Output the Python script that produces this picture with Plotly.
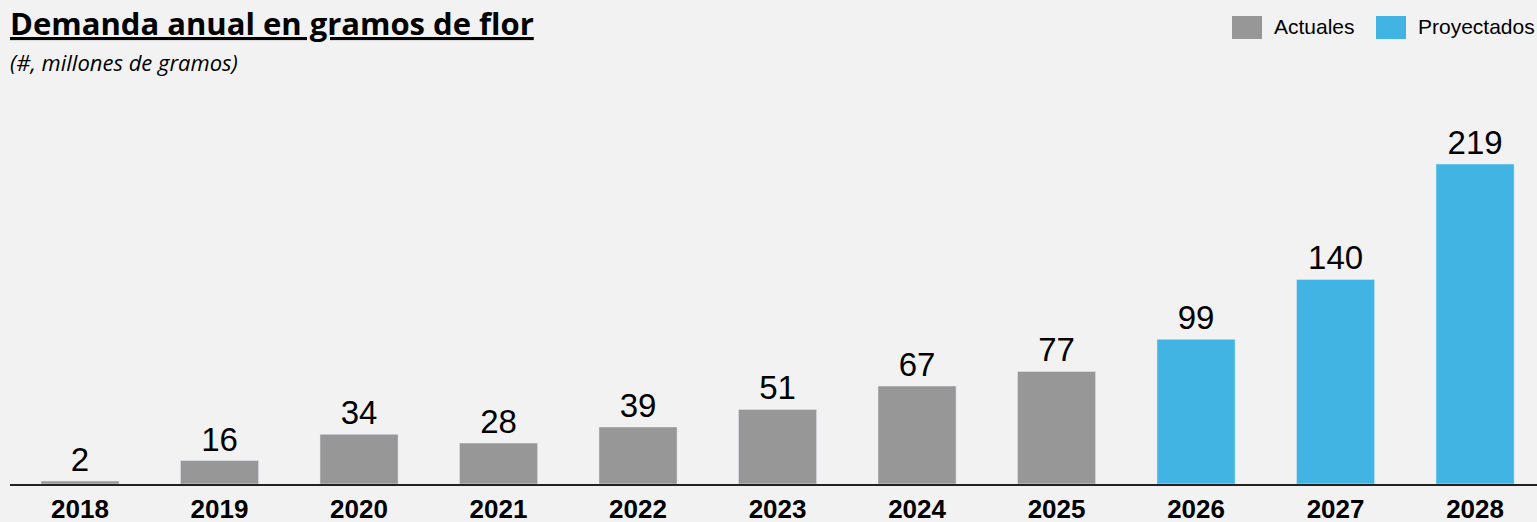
import plotly.graph_objects as go

years_actual = ["2018", "2019", "2020", "2021", "2022", "2023", "2024", "2025"]
values_actual = [2, 16, 34, 28, 39, 51, 67, 77]
years_proj = ["2026", "2027", "2028"]
values_proj = [99, 140, 219]

gray = "#979797"
blue = "#41B4E4"
font_sans = "Arial, Liberation Sans, sans-serif"

W, H = 1537, 522
L, T, B = 10, 100, 38
PW, PH = W - L, H - T - B


def px(x):
    # pixel -> paper x
    return (x - L) / PW


def py(y):
    # pixel -> paper y
    return (H - B - y) / PH


fig = go.Figure()
fig.add_trace(go.Bar(x=years_actual, y=values_actual, name="Actuales",
                     marker_color=gray, width=0.56,
                     text=values_actual, textposition="outside",
                     textfont=dict(size=33, color="black", family=font_sans),
                     cliponaxis=False))
fig.add_trace(go.Bar(x=years_proj, y=values_proj, name="Proyectados",
                     marker_color=blue, width=0.56,
                     text=values_proj, textposition="outside",
                     textfont=dict(size=33, color="black", family=font_sans),
                     cliponaxis=False))

fig.update_layout(
    width=W, height=H,
    paper_bgcolor="#F2F2F2", plot_bgcolor="#F2F2F2",
    margin=dict(l=L, r=0, t=T, b=B),
    barmode="overlay", showlegend=False,
    font=dict(family=font_sans, color="black"),
)
fig.update_xaxes(range=[-0.502, 10.444], showline=True, linecolor="#222222", linewidth=2,
                 showgrid=False, ticks="", ticklabelstandoff=1, automargin=False,
                 tickfont=dict(size=26, weight="bold"))
fig.update_yaxes(range=[0, 262.8], visible=False, showgrid=False, zeroline=False,
                 automargin=False)

# title and subtitle
fig.add_annotation(text="<b><u>Demanda anual en gramos de flor</u></b>", x=px(10), y=py(0),
                   xref="paper", yref="paper", showarrow=False, xanchor="left", yanchor="top",
                   xshift=-2, font=dict(family="Open Sans", size=31, color="black"))
fig.add_annotation(text="<i>(#, millones de gramos)</i>", x=px(10), y=py(45),
                   xref="paper", yref="paper", showarrow=False, xanchor="left", yanchor="top",
                   xshift=-2, font=dict(family="Open Sans", size=22, color="black"))

# manual legend
legend_items = [("Actuales", gray, 1232), ("Proyectados", blue, 1376)]
for label, color, x0 in legend_items:
    fig.add_shape(type="rect", xref="paper", yref="paper",
                  x0=px(x0), x1=px(x0 + 30), y0=py(39), y1=py(16),
                  fillcolor=color, line_width=0)
    fig.add_annotation(text=label, xref="paper", yref="paper",
                       x=px(x0 + 40), y=py(27), xanchor="left", yanchor="middle",
                       showarrow=False, font=dict(size=21, color="black"))

# drop the default page margin so the figure fills the window
fig.write_html("out.html", config={"displayModeBar": False},
               post_script="document.body.style.margin='0';document.body.style.overflow='hidden';")
